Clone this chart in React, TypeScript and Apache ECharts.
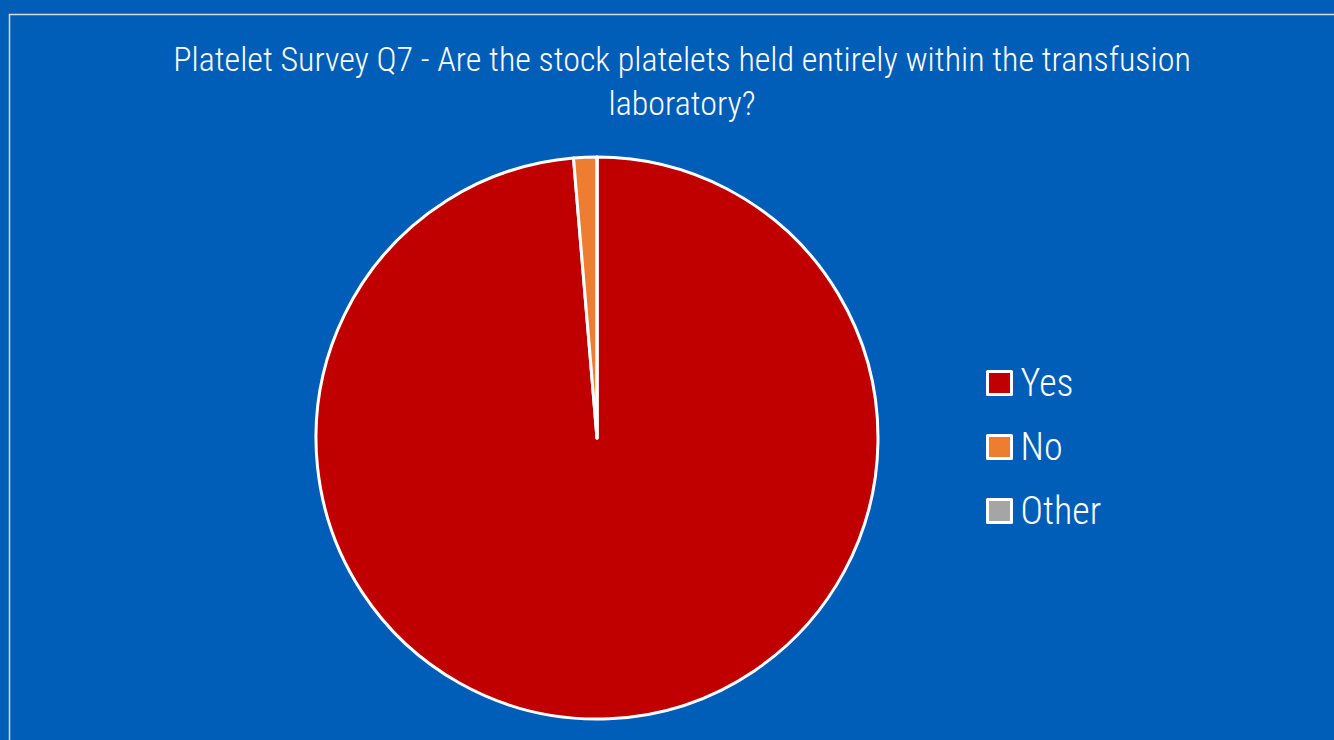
import React, { useEffect, useRef } from "react";
import * as echarts from "echarts";

const titleText = "Platelet Survey Q7 - Are the stock platelets held entirely within the transfusion\nlaboratory?";
const categories = ["Yes", "No", "Other"];
const values = [74, 1, 0];
const colors = ["#C00000", "#ED7D31", "#A5A5A5"];

const FONT = "'Liberation Sans Narrow', 'Roboto Condensed', 'DejaVu Sans Condensed', 'Liberation Sans', sans-serif";

export default function App() {
  const ref = useRef<HTMLDivElement>(null);
  useEffect(() => {
    document.body.style.margin = "0";
    const chart = echarts.init(ref.current!, undefined, { renderer: "svg" });
    chart.setOption({
      animation: false,
      backgroundColor: "#005EB8",
      title: {
        text: titleText,
        left: 677,
        textAlign: "center",
        top: 32,
        textStyle: { color: "#FFFFFF", fontFamily: FONT, fontWeight: 300, fontSize: 34, lineHeight: 44, width: 1030, align: "center" },
      },
      graphic: [
        {
          type: "rect",
          shape: { x: 9.5, y: 14.5, width: 1400, height: 800 },
          style: { fill: "none", stroke: "#D9D9D9", lineWidth: 1.5 },
          silent: true,
        },
      ],
      legend: {
        orient: "vertical",
        left: 981,
        top: 357,
        itemWidth: 24,
        itemHeight: 23,
        itemGap: 22,
        icon: "rect",
        itemStyle: { borderColor: "#FFFFFF", borderWidth: 3 },
        textStyle: { color: "#FFFFFF", fontFamily: FONT, fontWeight: 300, fontSize: 38, lineHeight: 42, padding: [0, 0, 0, 4] },
        data: categories,
      },
      series: [
        {
          type: "pie",
          center: [597, 438],
          radius: 281,
          startAngle: 90,
          clockwise: true,
          label: { show: false },
          labelLine: { show: false },
          itemStyle: { borderColor: "#FFFFFF", borderWidth: 3 },
          emphasis: { disabled: true },
          data: categories.map((c, i) => ({ name: c, value: values[i], itemStyle: { color: colors[i] } })),
        },
      ],
    });
    return () => chart.dispose();
  }, []);
  return <div ref={ref} style={{ width: 1334, height: 740, position: "absolute", left: 0, top: 0 }} />;
}
